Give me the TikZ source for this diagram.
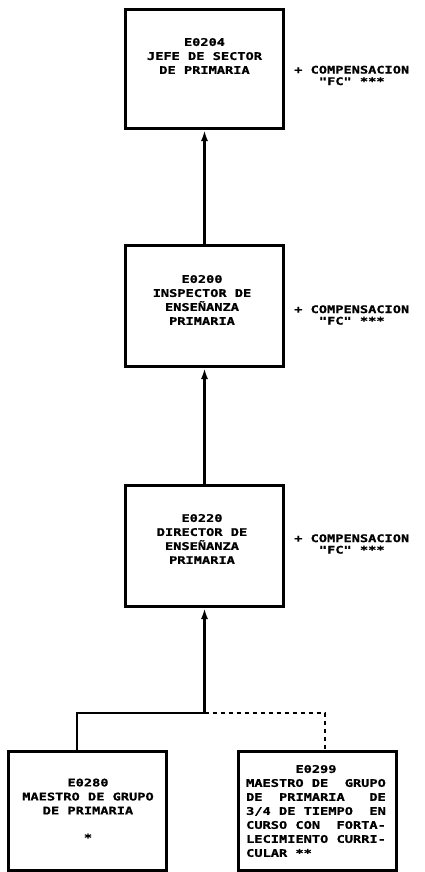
\documentclass[tikz,border=0pt]{standalone}
\usepackage{fontspec}
\newfontfamily\dotfont{DejaVu Sans Mono}[FakeStretch=1.3,FakeBold=1]
\usepackage{tikz}
\usetikzlibrary{arrows.meta}
\tikzstyle{arrow} = [line width=2.2pt,-{Latex[length=11pt,width=7pt]}]
\tikzstyle{linea} = [line width=2.2pt]
\tikzstyle{opcional} = [line width=1.6pt,dash pattern=on 4pt off 4pt]
\tikzstyle{puesto} = [draw,line width=3pt,rectangle,inner sep=0pt,minimum width=158pt]
\tikzstyle{texto} = [font=\dotfont\bfseries\fontsize{10.5}{14}\selectfont,align=center,inner sep=0pt]
\tikzstyle{nota} = [font=\dotfont\bfseries\fontsize{10.5}{11.5}\selectfont,align=left,anchor=west,inner sep=0pt]

\begin{document}
\begin{tikzpicture}[x=1pt,y=-1pt]
						\useasboundingbox (0,0) rectangle (425,872);
						% puestos
						\node[puesto,minimum height=119pt] (jefe) at (204.5,69) {};
						\node[puesto,minimum height=121pt] (inspector) at (204.5,306) {};
						\node[puesto,minimum height=121pt] (director) at (204.5,546) {};
						\node[puesto,minimum height=119pt] (maestro) at (87,810.5) {};
						\node[puesto,minimum height=119pt] (maestrotc) at (317,810.5) {};
						\node[texto] (tjefe) at (204.5,56) {E0204\\JEFE DE SECTOR\\DE PRIMARIA};
						\node[texto] (tinspector) at (202,300) {E0200\\INSPECTOR DE\\ENSEÑANZA\\PRIMARIA};
						\node[texto] (tdirector) at (202,539) {E0220\\DIRECTOR DE\\ENSEÑANZA\\PRIMARIA};
						\node[texto] (tmaestro) at (88,810) {E0280\\MAESTRO DE GRUPO\\DE PRIMARIA\\[13pt]*};
						\node[texto,align=left] (tmaestrotc) at (316,811) {\phantom{MAESTR}E0299\\MAESTRO DE\ \ GRUPO\\DE\ \ PRIMARIA\ \ \ DE\\3/4 DE TIEMPO\ \ EN\\CURSO CON\ \ FORTA-\\LECIMIENTO CURRI-\\CULAR **};
						% compensaciones
						\node[nota] (comp1) at (294,75.5) {+ COMPENSACION\\\phantom{+ C}"FC" ***};
						\node[nota] (comp2) at (294,315) {+ COMPENSACION\\\phantom{+ C}"FC" ***};
						\node[nota] (comp3) at (294,544) {+ COMPENSACION\\\phantom{+ C}"FC" ***};
						% lineas
						\coordinate (union) at (204.5,713);
						\coordinate (izq) at (77,713);
						\coordinate (der) at (325,713);
						\draw[arrow] (inspector.north) -- (jefe.south);
						\draw[arrow] (director.north) -- (inspector.south);
						\draw[arrow] (union) -- (director.south);
						\draw[linea] (maestro.north -| izq) -- (izq) -- (union);
						\draw[opcional] (union) -- (der) -- (maestrotc.north -| der);
					\end{tikzpicture}
\end{document}
